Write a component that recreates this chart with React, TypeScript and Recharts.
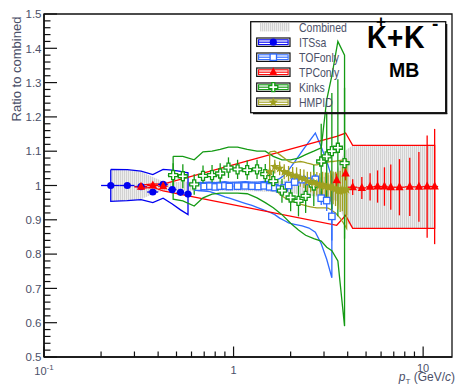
import React from 'react';
import {
  ComposedChart,
  Area,
  Line,
  Scatter,
  ErrorBar,
  XAxis,
  YAxis,
  ReferenceArea,
  Legend
} from 'recharts';

const FONT = '"Liberation Sans", Arial, Helvetica, sans-serif';
const INK = '#4b5068';

const C_ITS = '#0000f0';
const C_TOF = '#2f6bff';
const C_TPC = '#ff0000';
const C_KINK = '#149a14';
const C_HMP = '#a0a020';

// ---- Combined (grey band) ----
const COMB_PT = [0.225, 0.275, 0.325, 0.375, 0.425, 0.5, 0.6, 1.0, 1.5, 2.0, 2.5, 3.0, 3.5, 3.85, 4.25, 11.5];
const COMB_HI = [1.045, 1.045, 1.04, 1.025, 1.012, 1.01, 1.012, 1.012, 1.012, 1.015, 1.02, 1.025, 1.04, 1.1, 1.117, 1.117];
const COMB_LO = [0.955, 0.955, 0.96, 0.975, 0.985, 0.985, 0.985, 0.985, 0.982, 0.978, 0.97, 0.965, 0.955, 0.9, 0.875, 0.875];

// ---- ITSsa ----
const ITS_PT = [0.225, 0.275, 0.325, 0.375, 0.425, 0.475, 0.525, 0.575];
const ITS_RATIO = [1.0, 1.0, 0.997, 0.981, 1.003, 0.988, 0.98, 0.975];
const ITS_STAT = [0.002, 0.002, 0.002, 0.003, 0.003, 0.003, 0.004, 0.004];
const ITS_DPT = [0.025, 0.025, 0.025, 0.025, 0.025, 0.025, 0.025, 0.025];
const ITS_SYS_HI = [1.047, 1.046, 1.042, 1.032, 1.047, 1.045, 1.041, 1.037];
const ITS_SYS_LO = [0.954, 0.956, 0.959, 0.95, 0.963, 0.946, 0.929, 0.915];

// ---- TOFonly ----
const TOF_PT = [0.65, 0.7, 0.75, 0.8, 0.85, 0.9, 0.95, 1.05, 1.15, 1.25, 1.35, 1.45, 1.55, 1.65, 1.75, 1.85, 1.95, 2.1, 2.3, 2.5, 2.7, 2.9, 3.1, 3.3];
const TOF_RATIO = [0.995, 0.997, 0.998, 0.996, 0.998, 0.999, 0.997, 0.998, 0.999, 0.998, 0.997, 0.999, 0.996, 0.994, 0.99, 0.993, 1.0, 1.01, 1.017, 1.012, 1.018, 0.963, 0.956, 0.91];
const TOF_STAT = [0.003, 0.003, 0.003, 0.003, 0.003, 0.003, 0.003, 0.004, 0.004, 0.004, 0.004, 0.005, 0.005, 0.005, 0.006, 0.006, 0.007, 0.008, 0.01, 0.012, 0.015, 0.02, 0.03, 0.07];
const TOF_DPT = [0.025, 0.025, 0.025, 0.025, 0.025, 0.025, 0.025, 0.05, 0.05, 0.05, 0.05, 0.05, 0.05, 0.05, 0.05, 0.05, 0.05, 0.1, 0.1, 0.1, 0.1, 0.1, 0.1, 0.1];
const TOF_SYS_HI = [1.008, 1.009, 1.01, 1.008, 1.01, 1.011, 1.009, 1.01, 1.011, 1.01, 1.01, 1.012, 1.012, 1.015, 1.02, 1.03, 1.045, 1.069, 1.1, 1.128, 1.153, 1.112, 1.072, 1.022];
const TOF_SYS_LO = [0.985, 0.984, 0.982, 0.977, 0.972, 0.967, 0.963, 0.955, 0.948, 0.942, 0.935, 0.928, 0.922, 0.915, 0.905, 0.898, 0.891, 0.887, 0.882, 0.876, 0.864, 0.83, 0.785, 0.731];

// ---- TPConly ----
const TPC_PT = [0.325, 0.375, 0.425, 3.5, 3.9, 4.25, 4.75, 5.25, 5.75, 6.25, 6.75, 7.5, 8.5, 9.5, 10.5, 11.5];
const TPC_RATIO = [0.996, 1.0, 0.998, 1.015, 1.035, 0.995, 0.993, 0.996, 0.997, 0.997, 0.995, 0.995, 0.996, 0.996, 0.997, 0.997];
const TPC_STAT = [0.004, 0.004, 0.004, 0.02, 0.02, 0.023, 0.032, 0.04, 0.047, 0.056, 0.066, 0.082, 0.085, 0.102, 0.149, 0.168];
const TPC_DPT = [0.025, 0.025, 0.025, 0.1, 0.1, 0.25, 0.25, 0.25, 0.25, 0.25, 0.25, 0.5, 0.5, 0.5, 0.5, 0.5];
const TPC_SYS_HI = [1.001, 1.005, 1.004, 1.143, 1.153, 1.117, 1.117, 1.117, 1.117, 1.117, 1.117, 1.117, 1.117, 1.117, 1.117, 1.117];
const TPC_SYS_LO = [0.991, 0.995, 0.984, 0.884, 0.913, 0.875, 0.875, 0.875, 0.875, 0.875, 0.875, 0.875, 0.875, 0.875, 0.875, 0.875];

// ---- Kinks ----
const KINK_PT = [0.48, 0.54, 0.62, 0.69, 0.77, 0.85, 0.94, 1.05, 1.18, 1.33, 1.47, 1.62, 1.8, 2.0, 2.2, 2.4, 2.65, 2.9, 3.1, 3.3, 3.55, 3.85];
const KINK_RATIO = [1.03, 1.027, 1.003, 1.028, 1.03, 1.035, 1.052, 1.047, 1.045, 1.047, 1.033, 1.013, 0.985, 0.965, 0.955, 0.97, 1.0, 1.07, 1.085, 1.1, 1.11, 1.065];
const KINK_STAT = [0.035, 0.035, 0.03, 0.03, 0.03, 0.03, 0.03, 0.028, 0.028, 0.028, 0.03, 0.03, 0.035, 0.04, 0.045, 0.05, 0.06, 0.11, 0.13, 0.17, 0.2, 0.22];
const KINK_DPT = [0.03, 0.03, 0.04, 0.035, 0.04, 0.04, 0.05, 0.06, 0.07, 0.075, 0.07, 0.08, 0.1, 0.1, 0.1, 0.1, 0.125, 0.125, 0.1, 0.1, 0.125, 0.15];
const KINK_SYS_HI = [1.085, 1.085, 1.075, 1.098, 1.1, 1.105, 1.112, 1.112, 1.105, 1.1, 1.1, 1.085, 1.075, 1.075, 1.08, 1.09, 1.1, 1.11, 1.25, 1.32, 1.42, 1.38];
const KINK_SYS_LO = [0.96, 0.955, 0.94, 0.964, 0.975, 0.978, 0.978, 0.978, 0.976, 0.964, 0.95, 0.935, 0.915, 0.89, 0.87, 0.855, 0.845, 0.838, 0.82, 0.81, 0.78, 0.59];

// ---- HMPID ----
const HMP_PT = [1.55, 1.65, 1.75, 1.85, 1.95, 2.05, 2.15, 2.25, 2.35, 2.45, 2.55, 2.65, 2.75, 2.85, 2.95, 3.05, 3.15, 3.25, 3.35, 3.45, 3.55, 3.65, 3.75, 3.85, 3.95];
const HMP_RATIO = [1.04, 1.055, 1.05, 1.04, 1.035, 1.03, 1.028, 1.022, 1.02, 1.012, 1.01, 1.008, 1.005, 1.0, 1.002, 0.998, 0.995, 0.998, 0.993, 0.99, 0.985, 0.983, 0.99, 0.985, 0.988];
const HMP_STAT = [0.02, 0.02, 0.02, 0.022, 0.022, 0.024, 0.025, 0.026, 0.027, 0.028, 0.03, 0.032, 0.034, 0.036, 0.038, 0.04, 0.042, 0.045, 0.048, 0.05, 0.055, 0.06, 0.065, 0.07, 0.075];
const HMP_DPT = [0.05, 0.05, 0.05, 0.05, 0.05, 0.05, 0.05, 0.05, 0.05, 0.05, 0.05, 0.05, 0.05, 0.05, 0.05, 0.05, 0.05, 0.05, 0.05, 0.05, 0.05, 0.05, 0.05, 0.05, 0.05];
const HMP_SYS_HI = [1.098, 1.1, 1.09, 1.08, 1.07, 1.066, 1.068, 1.07, 1.068, 1.065, 1.063, 1.06, 1.06, 1.062, 1.064, 1.066, 1.068, 1.07, 1.07, 1.071, 1.072, 1.073, 1.074, 1.075, 1.075];
const HMP_SYS_LO = [0.995, 0.99, 0.975, 0.965, 0.958, 0.954, 0.95, 0.946, 0.943, 0.94, 0.938, 0.936, 0.935, 0.935, 0.935, 0.935, 0.934, 0.93, 0.925, 0.92, 0.912, 0.905, 0.895, 0.885, 0.875];

// ---- axes ----
const X_MAJOR = [0.1, 1, 10];
const X_TICKS = [0.1, 0.2, 0.3, 0.4, 0.5, 0.6, 0.7, 0.8, 0.9, 1, 2, 3, 4, 5, 6, 7, 8, 9, 10];
const Y_MAJOR_LABELS = ['0.5', '0.6', '0.7', '0.8', '0.9', '1', '1.1', '1.2', '1.3', '1.4', '1.5'];
const Y_TICKS = Array.from({ length: 51 }, (_, i) => (50 + i * 2) / 100);

const LEGEND_NAMES = ['Combined', 'ITSsa', 'TOFonly', 'TPConly', 'Kinks', 'HMPID'];

const toPoints = (pt: number[], ratio: number[], ey: number[], ex: number[]) =>
  pt.map((x, i) => ({ x, y: ratio[i], ey: ey[i], ex: ex[i] }));

// closed outline: along the upper edge, back along the lower one
const toOutline = (pt: number[], hi: number[], lo: number[]) => {
  const up = pt.map((x, i) => ({ x, y: hi[i] }));
  const down = pt.map((x, i) => ({ x, y: lo[i] })).reverse();
  return [...up, ...down, up[0]];
};

const combBand = COMB_PT.map((x, i) => ({ x, band: [COMB_LO[i], COMB_HI[i]] }));

const itsPoints = toPoints(ITS_PT, ITS_RATIO, ITS_STAT, ITS_DPT);
const tofPoints = toPoints(TOF_PT, TOF_RATIO, TOF_STAT, TOF_DPT);
const tpcPoints = toPoints(TPC_PT, TPC_RATIO, TPC_STAT, TPC_DPT);
const kinkPoints = toPoints(KINK_PT, KINK_RATIO, KINK_STAT, KINK_DPT);
const hmpPoints = toPoints(HMP_PT, HMP_RATIO, HMP_STAT, HMP_DPT);

const itsOutline = toOutline(ITS_PT, ITS_SYS_HI, ITS_SYS_LO);
const tofOutline = toOutline(TOF_PT, TOF_SYS_HI, TOF_SYS_LO);
const tpcOutline = toOutline(TPC_PT, TPC_SYS_HI, TPC_SYS_LO);
const kinkOutline = toOutline(KINK_PT, KINK_SYS_HI, KINK_SYS_LO);
const hmpOutline = toOutline(HMP_PT, HMP_SYS_HI, HMP_SYS_LO);

// ---- markers ----
const crossPath = (cx: number, cy: number, a: number, b: number) =>
  `M${cx - b},${cy - a}H${cx + b}V${cy - b}H${cx + a}V${cy + b}H${cx + b}V${cy + a}H${cx - b}V${cy + b}H${cx - a}V${cy - b}H${cx - b}Z`;

const starPath = (cx: number, cy: number, R: number, r: number) => {
  let d = '';
  for (let k = 0; k < 10; k++) {
    const ang = -Math.PI / 2 + (k * Math.PI) / 5;
    const rad = k % 2 === 0 ? R : r;
    d += `${k === 0 ? 'M' : 'L'}${cx + rad * Math.cos(ang)},${cy + rad * Math.sin(ang)}`;
  }
  return d + 'Z';
};

const markerCircle = (p: any) => <circle cx={p.cx} cy={p.cy} r={3.6} fill={C_ITS} />;
const markerSquare = (p: any) => (
  <rect x={p.cx - 3.2} y={p.cy - 3.2} width={6.4} height={6.4} fill="#fff" stroke={C_TOF} strokeWidth={1.3} />
);
const markerTriangle = (p: any) => (
  <path d={`M${p.cx},${p.cy - 5}L${p.cx + 4.2},${p.cy + 3}L${p.cx - 4.2},${p.cy + 3}Z`} fill={C_TPC} />
);
const markerCross = (p: any) => (
  <path d={crossPath(p.cx, p.cy, 4.5, 1.5)} fill="#fff" stroke={C_KINK} strokeWidth={1.3} />
);
const markerStar = (p: any) => <path d={starPath(p.cx, p.cy, 5, 2.1)} fill={C_HMP} />;

// ---- ticks (ROOT style, pointing into the frame) ----
const XTick = (props: any) => {
  const { x, y, payload } = props;
  const v = payload.value;
  const major = X_MAJOR.includes(v);
  const txt = { fontSize: 11, fill: INK, fontFamily: FONT, textAnchor: 'middle' as const };
  return (
    <g>
      <line x1={x} x2={x} y1={y} y2={y - (major ? 10.5 : 5.5)} stroke="#111" strokeWidth={1.2} />
      {v === 0.1 && (
        <text x={x} y={y + 18} {...txt}>
          10<tspan dy={-5} fontSize={8}>-1</tspan>
        </text>
      )}
      {v === 1 && <text x={x} y={y + 17} {...txt}>1</text>}
      {v === 10 && <text x={x} y={y + 15} {...txt}>10</text>}
    </g>
  );
};

const YTick = (props: any) => {
  const { x, y, payload } = props;
  const i = Math.round((payload.value - 0.5) * 50);
  const major = i % 5 === 0;
  return (
    <g>
      <line x1={x} x2={x + (major ? 13 : 6.5)} y1={y} y2={y} stroke="#111" strokeWidth={1.2} />
      {major && (
        <text x={x - 2.5} y={y + 4.2} textAnchor="end" fontSize={11.5} fill={INK} fontFamily={FONT}>
          {Y_MAJOR_LABELS[i / 5]}
        </text>
      )}
    </g>
  );
};

// ---- legend (see-through box, drawn 10px above so the superscripts fit) ----
const LEGEND_STYLE = [
  { color: C_ITS, marker: markerCircle },
  { color: C_TOF, marker: markerSquare },
  { color: C_TPC, marker: markerTriangle },
  { color: C_KINK, marker: markerCross },
  { color: C_HMP, marker: markerStar }
];

const LegendBox = () => (
  <svg width={200} height={106} style={{ display: 'block', fontFamily: FONT }}>
    <g transform="translate(0 10)">
      <rect x={0.7} y={0.7} width={195} height={91} fill="none" stroke="#111" strokeWidth={1.3} />
      <line x1={196.6} x2={196.6} y1={3} y2={93} stroke="#111" strokeWidth={1.4} />
      <line x1={3} x2={197.3} y1={92.6} y2={92.6} stroke="#111" strokeWidth={1.4} />
      {LEGEND_NAMES.map((name, row) => {
        const cy = 6.2 + row * 15;
        const st = row > 0 ? LEGEND_STYLE[row - 1] : null;
        return (
          <g key={name}>
            {st ? (
              <g>
                <rect x={6.7} y={cy - 4.2} width={33.3} height={8.4} fill="#fff" stroke="#111" strokeWidth={1.2} />
                <rect x={8.6} y={cy - 2.4} width={29.5} height={4.8} fill="none" stroke={st.color} strokeWidth={1.1} />
                <line x1={8.6} x2={38.1} y1={cy} y2={cy} stroke={st.color} strokeWidth={1.1} />
                {st.marker({ cx: 23.3, cy })}
              </g>
            ) : (
              <rect x={10} y={cy - 4.2} width={30} height={8.4} fill="url(#combHatch)" />
            )}
            <text transform={`translate(49 ${cy + 4.4}) scale(0.84 1)`} fontSize={12.5} fill={INK}>
              {name}
            </text>
          </g>
        );
      })}
      <g fontWeight="bold" fill="#000">
        <text transform="translate(117 27) scale(0.88 1)" fontSize={31}>K</text>
        <text x={126} y={6} fontSize={17}>+</text>
        <text transform="translate(137 27) scale(0.9 1)" fontSize={31}>+</text>
        <text transform="translate(154 27) scale(0.92 1)" fontSize={31}>K</text>
        <text x={182} y={8.5} fontSize={19}>-</text>
        <text x={139} y={56} fontSize={19.5}>MB</text>
      </g>
    </g>
  </svg>
);

export default function App() {
  return (
    <div style={{ position: 'absolute', left: 0, top: 0, width: 456, height: 387, background: '#fff', fontFamily: FONT }}>
      <ComposedChart width={456} height={387} margin={{ top: 14, right: 4, bottom: 0, left: 0 }}>
        <defs>
          <pattern id="combHatch" width={2} height={3} patternUnits="userSpaceOnUse">
            <rect width={2} height={3} fill="#ededed" />
            <rect width={1} height={3} fill="#d2d2d2" />
          </pattern>
        </defs>
        <XAxis
          dataKey="x"
          type="number"
          scale="log"
          domain={[0.1, 14.2]}
          allowDataOverflow
          ticks={X_TICKS}
          interval={0}
          tickLine={false}
          tickSize={0}
          tickMargin={0}
          height={30}
          axisLine={{ stroke: '#111', strokeWidth: 1.5 }}
          tick={(p: any) => <XTick {...p} />}
        />
        <YAxis
          type="number"
          domain={[0.5, 1.5]}
          allowDataOverflow
          ticks={Y_TICKS}
          interval={0}
          tickLine={false}
          tickSize={0}
          tickMargin={0}
          width={44}
          axisLine={{ stroke: '#111', strokeWidth: 1.5 }}
          tick={(p: any) => <YTick {...p} />}
        />
        <ReferenceArea x1={0.1} x2={14.2} y1={0.5} y2={1.5} fill="none" stroke="#111" strokeWidth={1.3} />

        <Area data={combBand} dataKey="band" stroke="none" fill="url(#combHatch)" fillOpacity={1} isAnimationActive={false} />

        <Line data={itsOutline} dataKey="y" stroke={C_ITS} strokeWidth={1.3} dot={false} isAnimationActive={false} />
        <Line data={tofOutline} dataKey="y" stroke={C_TOF} strokeWidth={1.3} dot={false} isAnimationActive={false} />
        <Line data={tpcOutline} dataKey="y" stroke={C_TPC} strokeWidth={1.3} dot={false} isAnimationActive={false} />
        <Line data={kinkOutline} dataKey="y" stroke={C_KINK} strokeWidth={1.3} dot={false} isAnimationActive={false} />
        <Line data={hmpOutline} dataKey="y" stroke={C_HMP} strokeWidth={1.3} dot={false} isAnimationActive={false} />

        <Scatter data={itsPoints} dataKey="y" shape={markerCircle} isAnimationActive={false}>
          <ErrorBar dataKey="ey" direction="y" width={0} stroke={C_ITS} strokeWidth={1.3} />
          <ErrorBar dataKey="ex" direction="x" width={0} stroke={C_ITS} strokeWidth={1.3} />
        </Scatter>
        <Scatter data={tofPoints} dataKey="y" shape={markerSquare} isAnimationActive={false}>
          <ErrorBar dataKey="ey" direction="y" width={0} stroke={C_TOF} strokeWidth={1.3} />
          <ErrorBar dataKey="ex" direction="x" width={0} stroke={C_TOF} strokeWidth={1.3} />
        </Scatter>
        <Scatter data={tpcPoints} dataKey="y" shape={markerTriangle} isAnimationActive={false}>
          <ErrorBar dataKey="ey" direction="y" width={0} stroke={C_TPC} strokeWidth={1.3} />
          <ErrorBar dataKey="ex" direction="x" width={0} stroke={C_TPC} strokeWidth={1.3} />
        </Scatter>
        <Scatter data={kinkPoints} dataKey="y" shape={markerCross} isAnimationActive={false}>
          <ErrorBar dataKey="ey" direction="y" width={0} stroke={C_KINK} strokeWidth={1.3} />
          <ErrorBar dataKey="ex" direction="x" width={0} stroke={C_KINK} strokeWidth={1.3} />
        </Scatter>
        <Scatter data={hmpPoints} dataKey="y" shape={markerStar} isAnimationActive={false}>
          <ErrorBar dataKey="ey" direction="y" width={0} stroke={C_HMP} strokeWidth={1.3} />
          <ErrorBar dataKey="ex" direction="x" width={0} stroke={C_HMP} strokeWidth={1.3} />
        </Scatter>

        <Legend
          layout="horizontal"
          verticalAlign="middle"
          align="center"
          content={() => <LegendBox />}
          wrapperStyle={{ left: 250, top: 11, width: 200, height: 106, pointerEvents: 'none' }}
        />
      </ComposedChart>
      <svg width={456} height={387} style={{ position: 'absolute', left: 0, top: 0, pointerEvents: 'none' }}>
        <text
          x={16}
          y={69}
          transform="rotate(-90 16 69)"
          textAnchor="middle"
          dominantBaseline="central"
          fontSize={13}
          fill={INK}
          fontFamily={FONT}
        >
          Ratio to combined
        </text>
        <text x={455} y={381} textAnchor="end" fontSize={12} fill={INK} fontFamily={FONT}>
          <tspan fontStyle="italic">p</tspan>
          <tspan fontSize={8} dy={3}>T</tspan>
          <tspan dy={-3}> (GeV/</tspan>
          <tspan fontStyle="italic">c</tspan>
          <tspan>)</tspan>
        </text>
      </svg>
    </div>
  );
}
